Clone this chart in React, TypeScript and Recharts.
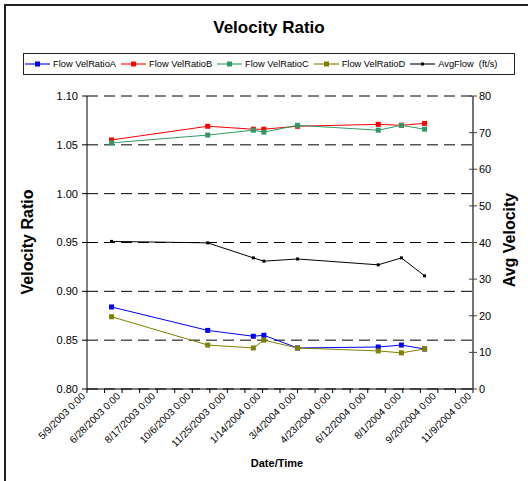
import React from "react";
import { LineChart, Line, XAxis, YAxis, CartesianGrid } from "recharts";

const FONT = "'Liberation Sans', Arial, sans-serif";

// sample dates and measured values
const sampleDates = ["6/13/2003", "10/28/2003", "1/1/2004", "1/16/2004", "3/4/2004", "6/27/2004", "7/30/2004", "9/1/2004"];
const velRatioA = [0.884, 0.86, 0.854, 0.855, 0.842, 0.843, 0.845, 0.841];
const velRatioB = [1.055, 1.069, 1.066, 1.066, 1.069, 1.071, 1.07, 1.072];
const velRatioC = [1.052, 1.06, 1.065, 1.063, 1.07, 1.065, 1.07, 1.066];
const velRatioD = [0.874, 0.845, 0.842, 0.85, 0.842, 0.839, 0.837, 0.841];
const avgFlow = [40.3, 39.9, 35.8, 34.9, 35.5, 33.9, 35.8, 30.9];

const dateTickLabels = [
  "5/9/2003 0:00", "6/28/2003 0:00", "8/17/2003 0:00", "10/6/2003 0:00",
  "11/25/2003 0:00", "1/14/2004 0:00", "3/4/2004 0:00", "4/23/2004 0:00",
  "6/12/2004 0:00", "8/1/2004 0:00", "9/20/2004 0:00", "11/9/2004 0:00",
];
const ratioTicks = [0.8, 0.85, 0.9, 0.95, 1.0, 1.05, 1.1];
const velocityTicks = [0, 10, 20, 30, 40, 50, 60, 70, 80];

// days since the first axis date
const toUtc = (s: string) => {
  const [m, d, y] = s.split(" ")[0].split("/").map(Number);
  return Date.UTC(y, m - 1, d);
};
const origin = toUtc(dateTickLabels[0]);
const dayOf = (s: string) => Math.round((toUtc(s) - origin) / 86400000);

const labelDays = dateTickLabels.map(dayOf);
const labelByDay: Record<number, string> = {};
labelDays.forEach((d, i) => (labelByDay[d] = dateTickLabels[i]));
// minor tick halfway between labelled ticks
const allTicks: number[] = [];
labelDays.forEach((d, i) => {
  allTicks.push(d);
  if (i < labelDays.length - 1) allTicks.push((d + labelDays[i + 1]) / 2);
});

const data = sampleDates.map((s, i) => ({
  day: dayOf(s),
  a: velRatioA[i],
  b: velRatioB[i],
  c: velRatioC[i],
  d: velRatioD[i],
  avg: avgFlow[i],
}));

const series = [
  { key: "a", name: "Flow VelRatioA", color: "#0000ff", axis: "left", size: 5 },
  { key: "b", name: "Flow VelRatioB", color: "#ff0000", axis: "left", size: 5 },
  { key: "c", name: "Flow VelRatioC", color: "#339966", axis: "left", size: 5 },
  { key: "d", name: "Flow VelRatioD", color: "#808000", axis: "left", size: 5 },
  { key: "avg", name: "AvgFlow  (ft/s)", color: "#000000", axis: "right", size: 3 },
];

const SquareDot = (size: number, color: string) => (props: any) => {
  const { cx, cy, index } = props;
  if (cx == null || cy == null) return <g key={index} />;
  return <rect key={index} x={cx - size / 2} y={cy - size / 2} width={size} height={size} fill={color} />;
};

const DateTick = (props: any) => {
  const { x, y, payload } = props;
  const label = labelByDay[payload.value];
  if (!label) return <g />;
  return (
    <g transform={`translate(${x - 4},${y - 1})`}>
      <text transform="rotate(-45)" textAnchor="end" dy={4} fontSize={10} fontFamily={FONT} fill="#000">
        {label}
      </text>
    </g>
  );
};

const RightTick = (props: any) => {
  const { x, y, payload } = props;
  // tick line crosses the axis on both sides
  const ax = x - 6;
  return (
    <g>
      <line x1={ax - 4} x2={ax + 4} y1={y} y2={y} stroke="#444" />
      <text x={x} y={y} dy={4} fontSize={11} fontFamily={FONT} fill="#000">
        {payload.value}
      </text>
    </g>
  );
};

const LegendBox = () => (
  <div
    style={{
      position: "absolute",
      left: 23,
      top: 53,
      width: 489,
      height: 20,
      border: "1px solid #222",
      display: "flex",
      alignItems: "center",
      paddingLeft: 1,
      fontFamily: FONT,
      fontSize: 9.3,
      color: "#000",
      boxSizing: "content-box",
    }}
  >
    {series.map((s) => (
      <div key={s.key} style={{ display: "flex", alignItems: "center", marginRight: 5 }}>
        <svg width={25} height={8} style={{ marginRight: 3 }}>
          <line x1={0} x2={25} y1={4} y2={4} stroke={s.color} strokeOpacity={0.55} strokeWidth={2} />
          <rect x={12.5 - s.size / 2} y={4 - s.size / 2} width={s.size} height={s.size} fill={s.color} />
        </svg>
        <span style={{ whiteSpace: "pre" }}>{s.name}</span>
      </div>
    ))}
  </div>
);

export default function App() {
  return (
    <div style={{ position: "absolute", left: 0, top: 0, width: 528, height: 481, overflow: "hidden", background: "#fff" }}>
      <div
        style={{
          position: "absolute",
          left: 4,
          top: 4,
          width: 560,
          height: 520,
          border: "2px solid #222",
        }}
      />
      <div
        style={{
          position: "absolute",
          left: 0,
          width: 538,
          top: 18,
          textAlign: "center",
          fontFamily: FONT,
          fontWeight: "bold",
          fontSize: 17,
        }}
      >
        Velocity Ratio
      </div>
      <LegendBox />
      <div style={{ position: "absolute", left: 0, top: 0 }}>
        <LineChart width={528} height={481} data={data} margin={{ top: 96, right: 0, bottom: 0, left: 0 }}>
          <CartesianGrid yAxisId="left" vertical={false} stroke="#000" strokeDasharray="11 6" />
          <XAxis
            dataKey="day"
            type="number"
            domain={[labelDays[0], labelDays[labelDays.length - 1]]}
            ticks={allTicks}
            interval={0}
            height={92}
            tickSize={4}
            tick={<DateTick />}
            axisLine={{ stroke: "#000" }}
            tickLine={{ stroke: "#000" }}
          />
          <YAxis
            yAxisId="left"
            width={87}
            domain={[0.8, 1.1]}
            ticks={ratioTicks}
            interval={0}
            tickSize={5}
            tickMargin={4}
            tickFormatter={(v: number) => v.toFixed(2)}
            tick={{ fontSize: 11, fontFamily: FONT, fill: "#000" }}
            axisLine={{ stroke: "#000" }}
            tickLine={{ stroke: "#000" }}
          />
          <YAxis
            yAxisId="right"
            orientation="right"
            width={55}
            domain={[0, 80]}
            ticks={velocityTicks}
            interval={0}
            tickSize={4}
            tickMargin={2}
            tick={<RightTick />}
            axisLine={{ stroke: "#444", strokeWidth: 1.5 }}
            tickLine={false}
          />
          {series.map((s) => (
            <Line
              key={s.key}
              yAxisId={s.axis}
              dataKey={s.key}
              name={s.name}
              stroke={s.color}
              strokeWidth={1}
              dot={SquareDot(s.size, s.color)}
              activeDot={false}
              isAnimationActive={false}
            />
          ))}
        </LineChart>
      </div>
      <div
        style={{
          position: "absolute",
          left: 28,
          top: 242,
          transform: "translate(-50%,-50%) rotate(-90deg)",
          whiteSpace: "nowrap",
          fontFamily: FONT,
          fontWeight: "bold",
          fontSize: 16,
        }}
      >
        Velocity Ratio
      </div>
      <div
        style={{
          position: "absolute",
          left: 510,
          top: 240,
          transform: "translate(-50%,-50%) rotate(-90deg)",
          whiteSpace: "nowrap",
          fontFamily: FONT,
          fontWeight: "bold",
          fontSize: 16,
        }}
      >
        Avg Velocity
      </div>
      <div
        style={{
          position: "absolute",
          left: 277,
          top: 463,
          transform: "translate(-50%,-50%)",
          fontFamily: FONT,
          fontWeight: "bold",
          fontSize: 11,
        }}
      >
        Date/Time
      </div>
    </div>
  );
}
